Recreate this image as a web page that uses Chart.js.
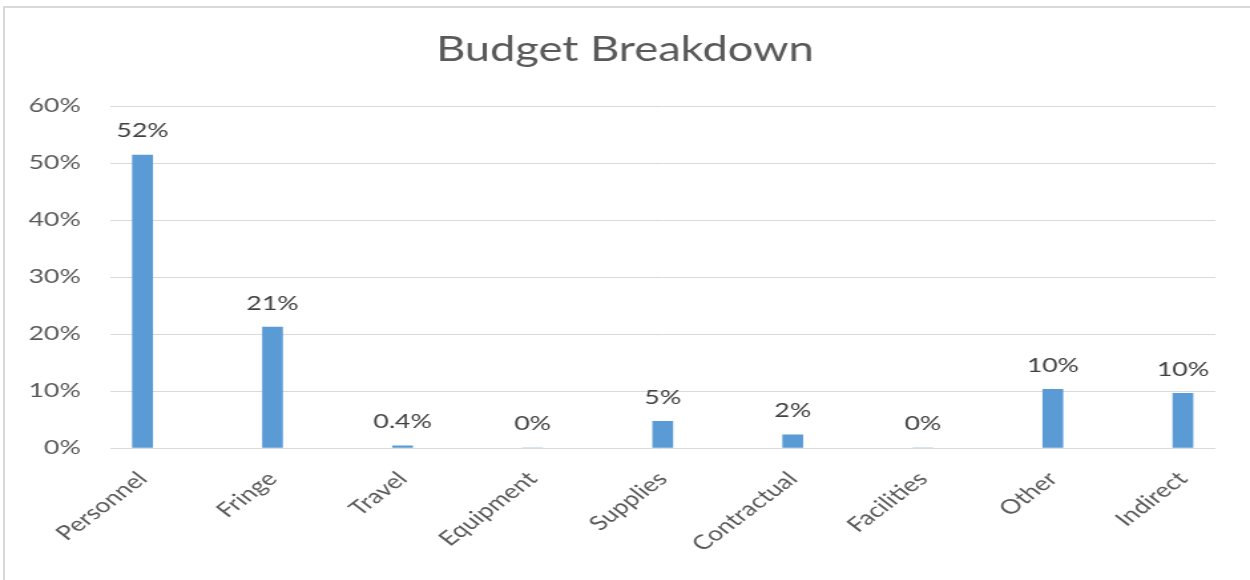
<!DOCTYPE html>
<html>
<head>
<meta charset="utf-8">
<script src="https://cdn.jsdelivr.net/npm/chart.js@4"></script>
<style>
  body { margin: 0; background: #fff; }
  #wrap { position: relative; width: 1250px; height: 580px; overflow: hidden; }
  #frame { position: absolute; left: 3px; top: 6px; right: 0; bottom: 0;
           border-top: 2px solid #d9d9d9; border-left: 2px solid #d9d9d9; }
  #chart { position: absolute; left: 0; top: 0; }
</style>
</head>
<body>
<div id="wrap">
  <div id="frame"></div>
  <!-- the reference is stretched sideways, so the canvas is too -->
  <canvas id="chart" width="940" height="580" style="width:1250px;height:580px"></canvas>
</div>
<script>
// data
const chartTitle = 'Budget Breakdown';
const categories = ['Personnel', 'Fringe', 'Travel', 'Equipment', 'Supplies', 'Contractual', 'Facilities', 'Other', 'Indirect'];
const shares = [51.4, 21.2, 0.4, 0, 4.7, 2.3, 0, 10.3, 9.6];
const shareLabels = ['52%', '21%', '0.4%', '0%', '5%', '2%', '0%', '10%', '10%'];
const yTicks = [0, 10, 20, 30, 40, 50, 60];

const FONT = 'Lato';

// labels above the bars
const barLabels = {
    id: 'barLabels',
    afterDatasetsDraw(chart) {
        const ctx = chart.ctx;
        const meta = chart.getDatasetMeta(0);
        ctx.save();
        ctx.font = '20px ' + FONT;
        ctx.fillStyle = '#404040';
        ctx.textAlign = 'center';
        ctx.textBaseline = 'middle';
        meta.data.forEach((bar, i) => {
            ctx.fillText(shareLabels[i], bar.x, bar.y - 24);
        });
        ctx.restore();
    }
};

// title centred on the whole canvas, not on the padded box
const centredTitle = {
    id: 'centredTitle',
    afterDraw(chart) {
        const ctx = chart.ctx;
        ctx.save();
        ctx.font = '34px ' + FONT;
        ctx.fillStyle = '#595959';
        ctx.textAlign = 'center';
        ctx.textBaseline = 'middle';
        ctx.fillText(chartTitle, chart.width / 2, 50);
        ctx.restore();
    }
};

new Chart(document.getElementById('chart'), {
    type: 'bar',
    data: {
        datasets: [{
            data: categories.map((c, i) => ({ x: i, y: shares[i] })),
            backgroundColor: '#5b9bd5',
            barThickness: 15
        }]
    },
    plugins: [barLabels, centredTitle],
    options: {
        responsive: false,
        animation: false,
        layout: { padding: { left: 0, right: 26, top: 106, bottom: 0 } },
        plugins: {
            legend: { display: false },
            tooltip: { enabled: false },
            title: { display: false }
        },
        scales: {
            x: {
                type: 'linear',
                offset: false,
                min: -0.25,
                max: categories.length - 0.75,
                grid: { display: false },
                border: { display: false },
                afterFit(scale) { scale.height = 132; },
                ticks: {
                    stepSize: 1,
                    includeBounds: false,
                    autoSkip: false,
                    minRotation: 45,
                    maxRotation: 45,
                    padding: 11,
                    color: '#595959',
                    font: { family: FONT, size: 20 },
                    callback: v => categories[v] ?? ''
                }
            },
            y: {
                min: yTicks[0],
                max: yTicks[yTicks.length - 1],
                grid: { color: '#d9d9d9', lineWidth: 1, drawTicks: false },
                border: { display: false },
                afterFit(scale) { scale.width = 82.7; },
                afterBuildTicks(scale) { scale.ticks = yTicks.map(v => ({ value: v })); },
                ticks: {
                    padding: 22,
                    color: '#595959',
                    font: { family: FONT, size: 20 },
                    callback: v => v + '%'
                }
            }
        }
    }
});
</script>
</body>
</html>
